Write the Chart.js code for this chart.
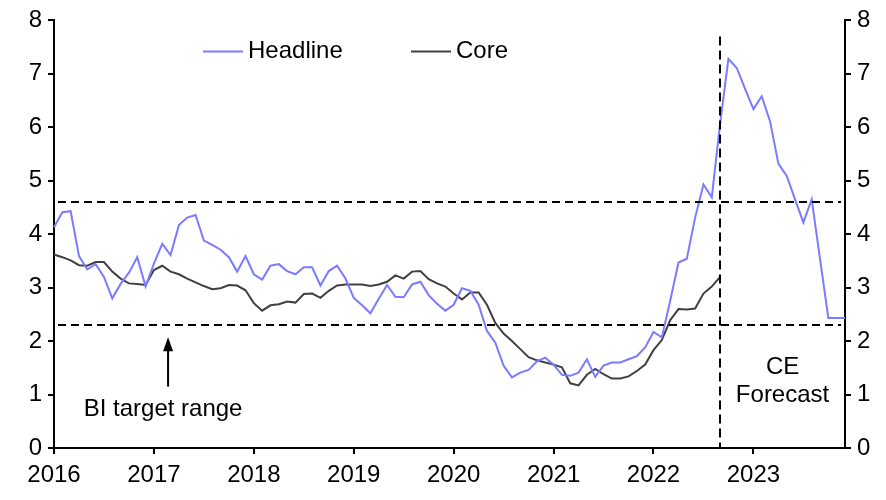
<!DOCTYPE html>
<html>
<head>
<meta charset="utf-8">
<script src="https://cdn.jsdelivr.net/npm/chart.js@4/dist/chart.umd.min.js"></script>
<style>
  html, body { margin: 0; padding: 0; background: #fff; }
  #wrap { width: 886px; height: 500px; }
</style>
</head>
<body>
<div id="wrap"><canvas id="grafico"></canvas></div>
<script>
// anos do eixo x (um rótulo por janeiro)
const anos = ['2016', '2017', '2018', '2019', '2020', '2021', '2022', '2023'];

// inflação cheia (jan/2016 - dez/2023, mensal)
const headline = [
    4.13, 4.41, 4.43, 3.59, 3.34, 3.44, 3.20, 2.80, 3.07, 3.28, 3.57, 3.02,
    3.45, 3.82, 3.61, 4.17, 4.31, 4.36, 3.88, 3.80, 3.71, 3.57, 3.30, 3.59,
    3.25, 3.15, 3.41, 3.44, 3.31, 3.25, 3.38, 3.38, 3.04, 3.31, 3.41, 3.17,
    2.81, 2.67, 2.52, 2.79, 3.05, 2.83, 2.82, 3.06, 3.11, 2.86, 2.70, 2.57,
    2.68, 2.99, 2.94, 2.68, 2.19, 1.97, 1.54, 1.32, 1.41, 1.46, 1.62, 1.69,
    1.56, 1.37, 1.35, 1.41, 1.66, 1.33, 1.54, 1.60, 1.60, 1.66, 1.72, 1.88,
    2.17, 2.07, 2.75, 3.47, 3.54, 4.31, 4.93, 4.69, 6.07, 7.28, 7.11, 6.72,
    6.34, 6.58, 6.11, 5.32, 5.09, 4.65, 4.22, 4.65, 3.54, 2.43, 2.43, 2.43
];

// núcleo (termina em set/2022)
const core = [
    3.62, 3.57, 3.51, 3.42, 3.41, 3.48, 3.48, 3.30, 3.17, 3.08, 3.07, 3.05,
    3.33, 3.41, 3.30, 3.25, 3.17, 3.10, 3.03, 2.97, 2.99, 3.05, 3.04, 2.95,
    2.71, 2.57, 2.67, 2.69, 2.74, 2.72, 2.88, 2.89, 2.81, 2.94, 3.04, 3.06,
    3.06, 3.06, 3.03, 3.06, 3.11, 3.23, 3.17, 3.30, 3.31, 3.16, 3.08, 3.02,
    2.89, 2.78, 2.91, 2.91, 2.68, 2.34, 2.14, 2.00, 1.85, 1.70, 1.64, 1.60,
    1.56, 1.51, 1.21, 1.17, 1.37, 1.48, 1.38, 1.30, 1.30, 1.34, 1.44, 1.56,
    1.83, 2.02, 2.39, 2.60, 2.59, 2.61, 2.89, 3.02, 3.20
];

// faixa da meta do BI e início da projeção
const metaSuperior = 4.6;
const metaInferior = 2.3;
const inicioProjecao = 80; // índice do mês (set/2022)
const yTicks = [0, 1, 2, 3, 4, 5, 6, 7, 8];

const meses = [];
anos.forEach(ano => {
    for (let m = 1; m <= 12; m++) meses.push(`${ano}-${String(m).padStart(2, '0')}`);
});

const corHeadline = '#7b7bff';
const corCore = '#404040';
const fonte = '"Liberation Sans", Arial, sans-serif';

const anotacoes = {
    id: 'anotacoes',
    afterDatasetsDraw(chart) {
        const ctx = chart.ctx;
        const x = chart.scales.x;
        const y = chart.scales.y;
        const area = chart.chartArea;

        ctx.save();
        ctx.strokeStyle = '#000';
        ctx.lineWidth = 2;

        // linhas tracejadas da meta
        ctx.setLineDash([8, 5]);
        [metaSuperior, metaInferior].forEach(v => {
            const py = Math.round(y.getPixelForValue(v));
            ctx.beginPath();
            ctx.moveTo(area.left + 4, py);
            ctx.lineTo(area.right - 4, py);
            ctx.stroke();
        });

        // linha vertical da projeção
        ctx.setLineDash([9, 5]);
        const px = Math.round(x.getPixelForValue(inicioProjecao));
        ctx.beginPath();
        ctx.moveTo(px, y.getPixelForValue(7.7));
        ctx.lineTo(px, area.bottom);
        ctx.stroke();
        ctx.setLineDash([]);

        // seta "BI target range"
        const ax = x.getPixelForValue(13.7);
        const aTopo = y.getPixelForValue(2.07);
        const aBase = y.getPixelForValue(1.15);
        ctx.beginPath();
        ctx.moveTo(ax, aBase);
        ctx.lineTo(ax, aTopo + 12);
        ctx.stroke();
        ctx.fillStyle = '#000';
        ctx.beginPath();
        ctx.moveTo(ax, aTopo);
        ctx.lineTo(ax - 5, aTopo + 14);
        ctx.lineTo(ax + 5, aTopo + 14);
        ctx.closePath();
        ctx.fill();

        ctx.font = `24px ${fonte}`;
        ctx.textAlign = 'center';
        ctx.textBaseline = 'middle';
        ctx.fillText('BI target range', x.getPixelForValue(13.1), y.getPixelForValue(0.72));
        ctx.fillText('CE', x.getPixelForValue(87.5), y.getPixelForValue(1.5));
        ctx.fillText('Forecast', x.getPixelForValue(87.5), y.getPixelForValue(0.98));

        // legenda
        const legenda = [
            { nome: 'Headline', cor: corHeadline, x0: 203 },
            { nome: 'Core', cor: corCore, x0: 411 }
        ];
        const ly = y.getPixelForValue(7.42);
        ctx.textAlign = 'left';
        legenda.forEach(item => {
            ctx.strokeStyle = item.cor;
            ctx.lineWidth = 2;
            ctx.beginPath();
            ctx.moveTo(item.x0, ly);
            ctx.lineTo(item.x0 + 40, ly);
            ctx.stroke();
            ctx.fillStyle = '#000';
            ctx.fillText(item.nome, item.x0 + 45, ly);
        });
        ctx.restore();
    }
};

const eixoY = (posicao, largura) => ({
    position: posicao,
    min: 0,
    max: 8,
    afterBuildTicks: scale => { scale.ticks = yTicks.map(v => ({ value: v })); },
    afterFit: scale => { scale.width = largura; },
    ticks: { color: '#000', font: { family: fonte, size: 24 }, padding: 6 },
    grid: { drawOnChartArea: false, color: '#000', lineWidth: 2, tickLength: 6 },
    border: { color: '#000', width: 2 }
});

new Chart(document.getElementById('grafico').getContext('2d'), {
    type: 'line',
    data: {
        labels: meses,
        datasets: [
            {
                label: 'Headline',
                data: headline,
                borderColor: corHeadline,
                borderWidth: 2,
                pointRadius: 0,
                tension: 0,
                fill: false
            },
            {
                label: 'Core',
                data: core,
                borderColor: corCore,
                borderWidth: 2,
                pointRadius: 0,
                tension: 0,
                fill: false
            }
        ]
    },
    options: {
        responsive: true,
        maintainAspectRatio: false,
        animation: false,
        layout: { padding: { top: 16, left: 0, right: 0, bottom: 0 } },
        plugins: { legend: { display: false }, tooltip: { enabled: false } },
        scales: {
            x: {
                offset: false,
                afterFit: scale => { scale.height = 52; },
                ticks: {
                    autoSkip: false,
                    maxRotation: 0,
                    color: '#000',
                    font: { family: fonte, size: 24 },
                    padding: 7,
                    callback: (v, i) => (i % 12 === 0 ? anos[i / 12] : null)
                },
                grid: { drawOnChartArea: false, color: '#000', lineWidth: 2, tickLength: 6 },
                border: { color: '#000', width: 2 }
            },
            y: eixoY('left', 54),
            y2: eixoY('right', 41)
        }
    },
    plugins: [anotacoes]
});
</script>
</body>
</html>
